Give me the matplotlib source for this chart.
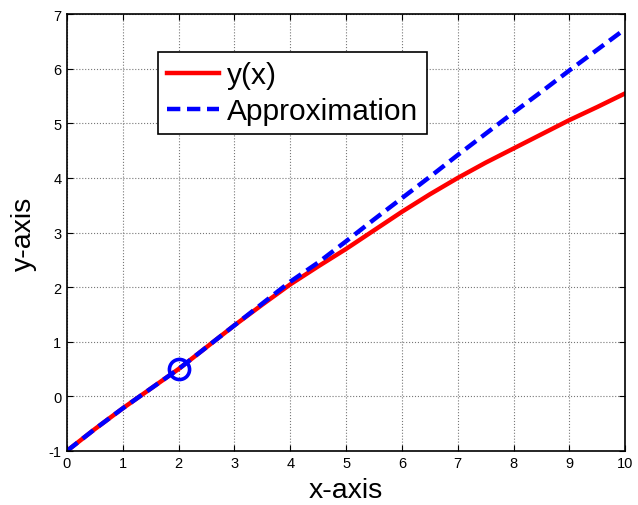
import matplotlib
matplotlib.use("Agg")
import matplotlib.pyplot as plt

plt.rcParams['font.family'] = ['Liberation Sans', 'DejaVu Sans']
plt.rcParams['axes.unicode_minus'] = False

# values
x_vals = [0, 0.5, 1, 1.5, 2, 2.5, 3, 3.5, 4, 4.5, 5, 5.5, 6, 6.5, 7, 7.5, 8, 8.5, 9, 9.5, 10]
y_true = [-1.0, -0.6, -0.22, 0.14, 0.5, 0.9, 1.3, 1.68, 2.05, 2.38, 2.7, 3.04, 3.38, 3.7, 4.0, 4.28, 4.54, 4.8, 5.06, 5.3, 5.55]
y_approx = [-1.0, -0.6, -0.22, 0.14, 0.5, 0.9, 1.3, 1.7, 2.1, 2.45, 2.84, 3.24, 3.63, 4.02, 4.42, 4.81, 5.2, 5.58, 5.97, 6.35, 6.73]
x0, y0 = 2, 0.5

fig = plt.figure(figsize=(6.38, 5.06), dpi=100)
ax = fig.add_axes([0.105, 0.107, 0.875, 0.863])

ax.plot(x_vals, y_true, color='red', lw=3.2, label='y(x)')
ax.plot(x_vals, y_approx, color='blue', lw=3.2, ls=(0, (3, 1.5)), label='Approximation')
ax.plot([x0], [y0], 'o', mfc='none', mec='blue', ms=14.5, mew=2.6)

ax.set_xlim(0, 10)
ax.set_ylim(-1, 7)
ax.set_xticks(range(0, 11))
ax.set_yticks(range(-1, 8))
ax.grid(True, color='#777777', ls=':', lw=0.8)
ax.tick_params(direction='in', length=4, top=True, right=True, labelsize=10.5, pad=4)
for s in ax.spines.values():
    s.set_linewidth(1.2)

ax.set_xlabel('x-axis', fontsize=20.5, labelpad=5)
ax.set_ylabel('y-axis', fontsize=20.5, labelpad=8)

leg = ax.legend(loc='upper left', bbox_to_anchor=(0.163, 0.913), borderaxespad=0,
                fontsize=21.5, fancybox=False, framealpha=1, edgecolor='black',
                handlelength=1.75, handletextpad=0.25, borderpad=0.3, labelspacing=0.28)
leg.get_frame().set_linewidth(1.2)

fig.savefig('out.png', dpi=100)
